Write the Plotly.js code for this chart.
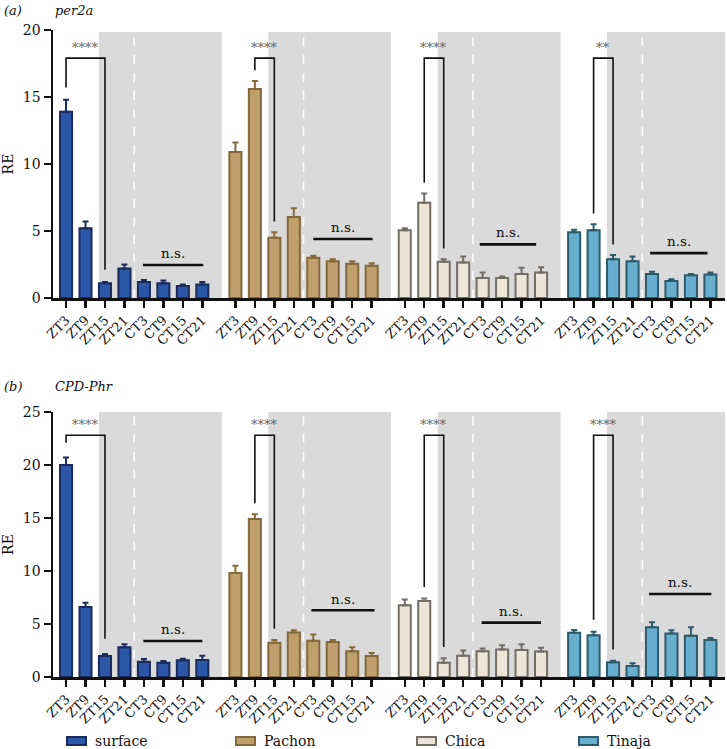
<!DOCTYPE html>
<html>
<head>
<meta charset="utf-8">
<script src="https://cdn.plot.ly/plotly-3.0.1.min.js"></script>
<style>html,body{margin:0;padding:0;background:#fff;}#chart{width:727px;height:749px;}</style>
</head>
<body>
<div id="chart"></div>
<script>
// ---------- data ----------
const timepoints = ['ZT3','ZT9','ZT15','ZT21','CT3','CT9','CT15','CT21'];
const populations = ['surface','Pachon','Chica','Tinaja'];

// panel (a) per2a : mean and upper error end
const per2a_surface = [13.9, 5.2, 1.1, 2.2, 1.2, 1.1, 0.9, 1.0];
const per2a_surface_top = [14.8, 5.7, 1.2, 2.5, 1.35, 1.3, 1.0, 1.2];
const per2a_pachon = [10.9, 15.6, 4.5, 6.05, 3.0, 2.75, 2.55, 2.4];
const per2a_pachon_top = [11.6, 16.2, 4.9, 6.7, 3.15, 2.9, 2.75, 2.6];
const per2a_chica = [5.05, 7.1, 2.7, 2.65, 1.5, 1.5, 1.8, 1.9];
const per2a_chica_top = [5.2, 7.8, 2.9, 3.1, 1.9, 1.6, 2.25, 2.3];
const per2a_tinaja = [4.9, 5.05, 2.9, 2.75, 1.8, 1.27, 1.7, 1.75];
const per2a_tinaja_top = [5.1, 5.5, 3.2, 3.1, 1.95, 1.4, 1.8, 1.9];

// panel (b) CPD-Phr
const cpd_surface = [20.0, 6.6, 1.98, 2.8, 1.45, 1.35, 1.57, 1.6];
const cpd_surface_top = [20.7, 7.0, 2.17, 3.1, 1.7, 1.5, 1.73, 2.0];
const cpd_pachon = [9.8, 14.9, 3.24, 4.2, 3.43, 3.3, 2.42, 1.98];
const cpd_pachon_top = [10.5, 15.35, 3.5, 4.4, 4.0, 3.5, 2.8, 2.26];
const cpd_chica = [6.76, 7.17, 1.35, 2.0, 2.42, 2.6, 2.55, 2.4];
const cpd_chica_top = [7.3, 7.4, 1.76, 2.5, 2.7, 3.0, 3.1, 2.75];
const cpd_tinaja = [4.18, 3.93, 1.38, 1.04, 4.69, 4.1, 3.9, 3.5];
const cpd_tinaja_top = [4.43, 4.28, 1.54, 1.3, 5.16, 4.4, 4.7, 3.68];

// significance brackets: [from bar, to bar, top y, left-leg end, right-leg end, label]
const per2a_brackets = [
  [0, 2, 17.9, 15.7, 2.1, '****'],
  [1, 2, 17.9, 17.0, 5.7, '****'],
  [1, 2, 17.9, 8.6, 3.7, '****'],
  [1, 2, 17.9, 6.3, 4.0, '**']
];
const cpd_brackets = [
  [0, 2, 22.8, 22.1, 3.6, '****'],
  [1, 2, 22.8, 16.4, 4.56, '****'],
  [1, 2, 22.8, 8.5, 2.83, '****'],
  [1, 2, 22.8, 5.4, 2.6, '****']
];
// n.s. lines: [from, to, y]
const per2a_ns = [[3.95, 7.05, 2.46], [4.0, 7.05, 4.4], [3.85, 6.75, 4.0], [3.9, 6.85, 3.35]];
const cpd_ns = [[3.97, 7.0, 3.4], [3.9, 7.15, 6.3], [3.95, 7.0, 5.13], [3.85, 7.05, 7.83]];

// ---------- styling ----------
const fills = ['#2c56a8', '#bf9f6c', '#ece6d9', '#66afcf'];
const edges = ['#1b2b5c', '#85693a', '#726e66', '#2e5b6b'];
const legendLeftPx = [67, 236, 417, 579];   // legend key left edges (pixels)
const GROUP_STEP = 8.7;
const FONT = 'DejaVu Serif';
const W = 727, H = 749;

const xs = populations.map((p, g) => timepoints.map((t, i) => g * GROUP_STEP + i));
const allX = [].concat(...xs);
const allText = [].concat(...populations.map(() => timepoints));

const panels = [
  {vals: [per2a_surface, per2a_pachon, per2a_chica, per2a_tinaja],
   tops: [per2a_surface_top, per2a_pachon_top, per2a_chica_top, per2a_tinaja_top],
   brackets: per2a_brackets, ns: per2a_ns, grayTop: 19.85, xa: 'x', ya: 'y', nsOff: 0.9, starOff: 0.8},
  {vals: [cpd_surface, cpd_pachon, cpd_chica, cpd_tinaja],
   tops: [cpd_surface_top, cpd_pachon_top, cpd_chica_top, cpd_tinaja_top],
   brackets: cpd_brackets, ns: cpd_ns, grayTop: 25, xa: 'x2', ya: 'y2', nsOff: 1.1, starOff: 1.0}
];

const traces = [];
const shapes = [];
const annotations = [];

panels.forEach((pn, pi) => {
  populations.forEach((pop, g) => {
    const v = pn.vals[g];
    traces.push({
      type: 'bar', x: xs[g], y: v, name: pop,
      xaxis: pn.xa, yaxis: pn.ya, width: 0.62, showlegend: false,
      marker: {color: fills[g], line: {color: edges[g], width: 2}},
      error_y: {type: 'data', symmetric: false,
        array: pn.tops[g].map((t, i) => t - v[i]),
        arrayminus: v.map(() => 0),
        color: edges[g], thickness: 2, width: 3},
      hoverinfo: 'x+y'
    });
    const base = g * GROUP_STEP;
    // dark phase shading
    shapes.push({type: 'rect', xref: pn.xa, yref: pn.ya, layer: 'below',
      x0: base + 1.69, x1: Math.min(base + 8.0, 33.85), y0: 0, y1: pn.grayTop,
      fillcolor: '#dadada', line: {width: 0}});
    // LD / DD separator
    shapes.push({type: 'line', xref: pn.xa, yref: pn.ya, layer: 'below',
      x0: base + 3.5, x1: base + 3.5, y0: 0, y1: pn.grayTop * 0.985,
      line: {color: '#ffffff', width: 1.5, dash: 'dash'}});
    // bracket
    const b = pn.brackets[g];
    const bx0 = base + b[0], bx1 = base + b[1];
    shapes.push({type: 'path', xref: pn.xa, yref: pn.ya,
      path: `M${bx0},${b[3]} L${bx0},${b[2]} L${bx1},${b[2]} L${bx1},${b[4]}`,
      line: {color: '#111', width: 1.6}});
    annotations.push({xref: pn.xa, yref: pn.ya, x: (bx0 + bx1) / 2, y: b[2] + pn.starOff,
      text: b[5], showarrow: false, font: {family: FONT, size: 13, color: '#666'}});
    // n.s.
    const n = pn.ns[g];
    shapes.push({type: 'line', xref: pn.xa, yref: pn.ya,
      x0: base + n[0], x1: base + n[1], y0: n[2], y1: n[2],
      line: {color: '#111', width: 2.6}});
    annotations.push({xref: pn.xa, yref: pn.ya, x: base + (n[0] + n[1]) / 2, y: n[2] + pn.nsOff,
      text: 'n.s.', showarrow: false, font: {family: FONT, size: 13.5, color: '#111'}});
  });
});

// legend (keys + names)
populations.forEach((pop, g) => {
  const x0 = legendLeftPx[g];
  shapes.push({type: 'rect', xref: 'paper', yref: 'paper',
    x0: x0 / W, x1: (x0 + 19) / W, y0: 1 - 745 / H, y1: 1 - 737 / H,
    fillcolor: fills[g], line: {color: edges[g], width: 2}});
  annotations.push({xref: 'paper', yref: 'paper', x: (x0 + 26) / W, y: 1 - 741 / H,
    xanchor: 'left', yanchor: 'middle', text: pop, showarrow: false,
    font: {family: FONT, size: 14, color: '#111'}});
});

// panel labels
annotations.push({xref: 'paper', yref: 'paper', x: 2/W, y: 1 - 10/H, xanchor: 'left', yanchor: 'middle',
  text: '<i>(a)</i>', showarrow: false, font: {family: FONT, size: 13, color: '#111'}});
annotations.push({xref: 'paper', yref: 'paper', x: 53/W, y: 1 - 10/H, xanchor: 'left', yanchor: 'middle',
  text: '<i>per2a</i>', showarrow: false, font: {family: FONT, size: 13, color: '#111'}});
annotations.push({xref: 'paper', yref: 'paper', x: 2/W, y: 1 - 386/H, xanchor: 'left', yanchor: 'middle',
  text: '<i>(b)</i>', showarrow: false, font: {family: FONT, size: 13, color: '#111'}});
annotations.push({xref: 'paper', yref: 'paper', x: 53/W, y: 1 - 386/H, xanchor: 'left', yanchor: 'middle',
  text: '<i>CPD-Phr</i>', showarrow: false, font: {family: FONT, size: 13, color: '#111'}});

const xCommon = {
  range: [-0.67, 33.85], showline: true, linecolor: '#111', linewidth: 2.5,
  ticks: 'outside', ticklen: 7, tickwidth: 2.5, tickcolor: '#111',
  tickmode: 'array', tickvals: allX, ticktext: allText, tickangle: -45,
  tickfont: {family: FONT, size: 13, color: '#111'}, showgrid: false, zeroline: false, fixedrange: true
};
const yCommon = {
  showline: true, linecolor: '#111', linewidth: 2.5,
  ticks: 'outside', ticklen: 7, tickwidth: 2.5, tickcolor: '#111', dtick: 5,
  tickfont: {family: FONT, size: 14, color: '#111'}, showgrid: false, zeroline: false,
  title: {text: 'RE', font: {family: FONT, size: 14, color: '#111'}, standoff: 10}
};

const layout = {
  width: W, height: H,
  margin: {l: 0, r: 0, t: 0, b: 0, autoexpand: false},
  paper_bgcolor: '#fff', plot_bgcolor: 'rgba(0,0,0,0)',
  barmode: 'overlay', bargap: 0,
  font: {family: FONT, color: '#111'},
  xaxis: Object.assign({}, xCommon, {domain: [53/W, 725/W], anchor: 'y'}),
  yaxis: Object.assign({}, yCommon, {domain: [1 - 298/H, 1 - 30/H], range: [0, 20], anchor: 'x'}),
  xaxis2: Object.assign({}, xCommon, {domain: [53/W, 725/W], anchor: 'y2'}),
  yaxis2: Object.assign({}, yCommon, {domain: [1 - 677/H, 1 - 412/H], range: [0, 25], anchor: 'x2'}),
  shapes: shapes, annotations: annotations,
  showlegend: false
};

Plotly.newPlot('chart', traces, layout, {displayModeBar: false, staticPlot: true});
</script>
</body>
</html>
